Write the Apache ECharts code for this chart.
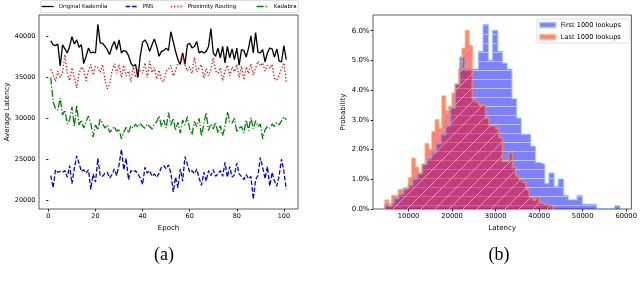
<!DOCTYPE html>
<html><head><meta charset="utf-8">
<script src="https://cdn.jsdelivr.net/npm/echarts@6/dist/echarts.min.js"></script>
<style>html,body{margin:0;padding:0;background:#fff}#c{width:640px;height:287px}</style>
</head><body><div id="c"></div>
<script>
// ---------- data: (a) average latency per epoch ----------
const epochs = Array.from({length: 101}, (_, i) => i + 1);
const originalKademlia = [39500,39000,38900,39100,36400,39000,38500,38000,38800,40000,
 39100,39600,38700,39000,36700,37600,38600,38000,38100,38000,
 41500,39200,39200,38800,38400,37800,38800,39400,38400,39600,
 38000,38300,38200,37700,36800,36400,36600,35000,37600,39300,
 39600,39100,38200,39000,39700,38800,37600,38200,38300,38600,
 38300,40600,39400,38200,37200,36600,38000,36600,39000,39200,
 38600,38800,39400,38000,38200,38000,38200,38800,41000,38000,
 37600,38600,37400,38800,36800,38800,37400,38500,37200,38600,
 36500,38400,38300,37500,38600,40100,38000,40500,38100,38000,
 38400,36900,38000,38600,38500,37500,38500,37000,36900,38900,
 37200];
const pns = [23000,21500,23700,23400,23500,23400,23600,22800,24200,22000,
 23900,25400,24500,23500,23700,23300,23700,21300,23200,22200,
 25100,23000,22900,23300,23400,22700,23100,23800,23000,24300,
 26200,23700,25100,22500,23600,23400,23600,23200,22700,21900,
 24000,23300,23600,22900,23200,22800,23300,24000,24200,23800,
 24300,23300,21000,22800,21500,23800,22300,25300,24400,23400,
 23600,23200,23800,22700,21800,23400,22300,23600,23000,23700,
 22900,23200,23600,22900,24600,22800,24100,22800,23100,24500,
 23200,22900,22500,23100,22600,22900,20100,22500,23000,25200,
 24000,22600,24100,21700,23400,22300,21700,23000,25000,23500,
 21300];
const proximityRouting = [36000,35300,34500,35800,35000,35600,37800,35500,34600,36200,
 35000,33700,35500,36300,36000,34600,35800,36600,35300,36400,
 36200,35600,36600,34800,33600,34200,35800,36700,35500,36600,
 35000,36500,35200,35800,34500,36300,35000,36000,35800,35500,
 36800,35000,37000,35600,36200,34800,35900,34600,34500,35800,
 36000,36500,35200,35800,36800,37200,37600,36500,35800,36300,
 35500,37500,35700,36200,36600,34900,36100,35200,36000,37400,
 35800,35500,36200,34600,35800,36500,35200,36300,35700,36600,
 35000,36400,34700,36300,35500,36700,35300,36200,37000,36400,
 36800,35800,36500,36100,36600,34900,34700,35300,36100,36800,
 34500];
const kadabra = [35000,32000,31200,31000,32500,30400,31000,29300,29800,31400,
 29000,31600,29200,29800,28800,29600,30300,29400,27700,29200,
 28600,29900,29400,28800,29200,28300,28600,29000,28400,28700,
 27500,28300,28900,28200,29100,28800,29300,28900,29400,29000,
 28800,29300,29000,28700,29300,29600,30300,29000,29800,28800,
 30700,29200,30000,28500,29500,28200,29800,29200,30200,28700,
 28000,29600,29000,30000,27800,29300,30700,28500,29300,28700,
 29500,28200,29100,27900,29000,30800,29600,29400,30000,28300,
 28800,29000,28200,29800,28500,30100,28700,29700,29000,29300,
 27500,28600,29000,28800,29300,29000,29500,29200,29700,30200,
 29800];
const epochTicks = [0, 20, 40, 60, 80, 100];
const latencyTicks = [20000, 25000, 30000, 35000, 40000];

// ---------- data: (b) latency histograms (percent per bin) ----------
const firstBinStart = 4500, firstBinWidth = 1080;
const firstLookups = [0.15,0.2,0.35,0.5,0.7,0.8,1.0,1.2,1.5,1.7,
 1.9,2.2,2.5,2.8,3.4,4.2,5.1,4.7,4.7,4.7,
 5.3,6.2,5.0,6.0,5.3,4.9,4.7,3.7,3.05,2.5,
 2.5,2.1,1.55,1.5,0.85,1.2,0.75,1.0,0.45,0.3,
 0.3,0.45,0.15,0.15,0.15,0,0,0,0,0.1];
const lastBinStart = 4600, lastBinWidth = 770;
const lastLookups = [0.3,0.1,0.45,0.45,0.65,0.65,0.7,1.05,1.7,1.4,
 1.2,1.5,2.2,2.0,2.6,3.0,2.7,3.8,3.3,3.45,
 3.9,4.2,4.7,5.4,6.0,5.5,3.7,3.6,3.5,3.5,
 3.05,2.8,2.8,2.7,2.4,1.6,1.6,1.9,1.4,1.1,
 1.0,0.9,0.65,0.4,0.3,0.4,0.2,0.15,0.15,0.1];
const histLatencyTicks = [10000, 20000, 30000, 40000, 50000, 60000];
const probTicks = [0, 1, 2, 3, 4, 5, 6];

// ---------- helpers ----------
function stepOutline(start, width, heights) {
  const pts = [[start, 0]];
  heights.forEach((h, i) => pts.push([start + i * width, h]));
  const end = start + heights.length * width;
  pts.push([end, heights[heights.length - 1]]);
  pts.push([end, 0]);
  return pts;
}
function hatch(size, fill, stroke, draw) {
  const c = document.createElement('canvas');
  c.width = size; c.height = size;
  const g = c.getContext('2d');
  g.fillStyle = fill; g.fillRect(0, 0, size, size);
  g.strokeStyle = stroke; g.lineWidth = 1;
  g.beginPath(); draw(g, size); g.stroke();
  return c;
}
const blueTile = hatch(9, 'rgba(0,0,255,0.5)', 'rgba(200,222,255,0.8)', (g, s) => {
  g.moveTo(0, 7.5); g.lineTo(s, 7.5);
});
const redTile = hatch(14, 'rgba(255,0,0,0.5)', 'rgba(255,195,120,0.75)', (g, s) => {
  g.moveTo(0, s); g.lineTo(s, 0);
  g.moveTo(-1, 1); g.lineTo(1, -1);
  g.moveTo(s - 1, s + 1); g.lineTo(s + 1, s - 1);
});

const FONT = 'DejaVu Sans';
const plain = v => String(Math.round(v));
function valAxis(grid, min, max, ticks, fs, extra, fmt) {
  return Object.assign({
    type: 'value', gridIndex: grid, min: min, max: max,
    splitLine: {show: false},
    axisLine: {show: false},
    axisTick: {show: true, length: 2.5, customValues: ticks, lineStyle: {color: '#000', width: 0.8}},
    axisLabel: {customValues: ticks, fontSize: fs, fontFamily: FONT, color: '#000', margin: 3.5,
      formatter: fmt || plain},
    nameLocation: 'middle',
    nameTextStyle: {fontSize: 7, fontFamily: FONT, color: '#000'}
  }, extra);
}
function lineSeries(name, values, color, dash) {
  return {
    name: name, type: 'line', xAxisIndex: 0, yAxisIndex: 0,
    data: epochs.map((e, i) => [e, values[i]]),
    symbol: 'none', color: color,
    lineStyle: {color: color, width: 1.3, type: dash},
    animation: false
  };
}
function legendAt(name, left) {
  return {
    data: [name], left: left, top: 3.5, padding: 0,
    itemWidth: 12, itemHeight: 5,
    itemStyle: {opacity: 0},
    lineStyle: {width: 1.3},
    textStyle: {fontSize: 5.5, fontFamily: FONT, color: '#000'}
  };
}

const chart = echarts.init(document.getElementById('c'), null, {renderer: 'canvas'});
chart.setOption({
  backgroundColor: '#fff',
  animation: false,
  grid: [
    {left: 39, top: 15, width: 259, height: 194, show: true, borderColor: '#333', borderWidth: 0.8},
    {left: 373, top: 15, width: 261, height: 194, show: true, borderColor: '#333', borderWidth: 0.8}
  ],
  xAxis: [
    valAxis(0, -4, 106, epochTicks, 6.5, {name: 'Epoch', nameGap: 13}),
    valAxis(1, 1818, 61200, histLatencyTicks, 6.8, {name: 'Latency', nameGap: 13})
  ],
  yAxis: [
    valAxis(0, 18900, 42650, latencyTicks, 6.5, {name: 'Average Latency', nameGap: 27}),
    valAxis(1, 0, 6.53, probTicks, 7, {name: 'Probability', nameGap: 26}, v => v.toFixed(1) + '%')
  ],
  legend: [
    legendAt('Original Kademlia', 41),
    legendAt('PNS', 125),
    legendAt('Proximity Routing', 170),
    legendAt('Kadabra', 256),
    {
      orient: 'vertical', left: 539, top: 21.5, padding: 0,
      itemWidth: 16, itemHeight: 5, itemGap: 5,
      textStyle: {fontSize: 6.6, fontFamily: FONT, color: '#000'},
      data: [
        {name: 'First 1000 lookups', icon: 'rect',
          itemStyle: {color: '#8080ff', borderColor: '#a8cdf2', borderWidth: 1.5}},
        {name: 'Last 1000 lookups', icon: 'rect',
          itemStyle: {color: '#ff8080', borderColor: '#ffc08a', borderWidth: 1.5}}
      ]
    }
  ],
  graphic: [
    {type: 'rect', z: 1, shape: {x: 40.5, y: 0.5, width: 258, height: 12, r: 1.5},
      style: {fill: '#fff', stroke: '#d4d4d4', lineWidth: 0.8}},
    {type: 'rect', z: 1, shape: {x: 537, y: 19, width: 93, height: 24, r: 1.5},
      style: {fill: '#fff', stroke: '#d4d4d4', lineWidth: 0.8}},
    {type: 'text', x: 164, y: 255, style: {text: '(a)', font: '18px "Liberation Serif"', fill: '#000',
      textAlign: 'center', textVerticalAlign: 'middle'}},
    {type: 'text', x: 499, y: 255, style: {text: '(b)', font: '18px "Liberation Serif"', fill: '#000',
      textAlign: 'center', textVerticalAlign: 'middle'}}
  ],
  series: [
    lineSeries('Original Kademlia', originalKademlia, '#000000', 'solid'),
    lineSeries('PNS', pns, '#0000ff', [4.5, 2]),
    lineSeries('Proximity Routing', proximityRouting, '#ff0000', [1.3, 2]),
    lineSeries('Kadabra', kadabra, '#008000', [7, 2, 1.3, 2]),
    {
      name: 'First 1000 lookups', type: 'line', xAxisIndex: 1, yAxisIndex: 1,
      step: 'end', symbol: 'none', color: '#8080ff',
      data: stepOutline(firstBinStart, firstBinWidth, firstLookups),
      lineStyle: {color: 'rgba(110,170,235,0.6)', width: 1.8},
      areaStyle: {color: {image: blueTile, repeat: 'repeat'}, opacity: 1}
    },
    {
      name: 'Last 1000 lookups', type: 'line', xAxisIndex: 1, yAxisIndex: 1,
      step: 'end', symbol: 'none', color: '#ff8080',
      data: stepOutline(lastBinStart, lastBinWidth, lastLookups),
      lineStyle: {color: 'rgba(255,150,60,0.6)', width: 1.8},
      areaStyle: {color: {image: redTile, repeat: 'repeat'}, opacity: 1}
    }
  ]
});
</script></body></html>
